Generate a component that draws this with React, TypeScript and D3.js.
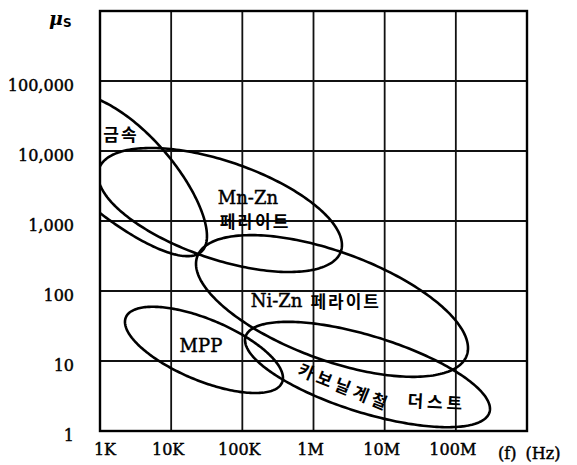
import React from 'react';
import * as d3 from 'd3';

// ---- data (log-log chart: frequency vs. permeability) ----
const xTickValues = [1e3, 1e4, 1e5, 1e6, 1e7, 1e8];
const xTickLabels = ['1K', '10K', '100K', '1M', '10M', '100M'];
const yTickValues = [1, 10, 100, 1e3, 1e4, 1e5];
const yTickLabels = ['1', '10', '100', '1,000', '10,000', '100,000'];
const xDomain = [1e3, 1e9];
const yDomain = [1, 1e6];

// material regions (bent ellipses in log10 decade units)
const regionNames = ['금속', 'Mn-Zn 페라이트', 'Ni-Zn 페라이트', 'MPP', '카보닐계철 더스트'];
const centerFreq = [1.91e3, 48.5e3, 1.82e6, 28.9e3, 5.74e6];
const centerMu = [5458, 1436, 61.1, 14.4, 6.41];
const spanDecades = [1.222, 1.714, 1.911, 1.11, 1.721];
const thickDecades = [0.829, 0.731, 0.814, 0.469, 0.571];
const slopes = [-0.677, -0.292, -0.315, -0.36, -0.285];
const bends = [-0.083, 0, 0, 0, 0];

// label anchors (frequency, mu)
const labelTexts = ['금속', 'Mn-Zn', '페라이트', 'Ni-Zn 페라이트', 'MPP', '카보닐계철', '더스트'];
const labelFreq = [1.97e3, 120e3, 151e3, 1.08e6, 26.2e3, 2.77e6, 54.3e6];
const labelMu = [17500, 2133, 1033, 74.3, 16.4, 4.39, 2.69];
const labelAngle = [0, 0, 0, 0, 0, 22, 3];
const labelSpacing = [2, 0, 2, 2, 0, 4, 4];

const W = 577;
const H = 465;
const left = 100, right = 527, top = 11, bottom = 431;

export default function App() {
  const x = d3.scaleLog().domain(xDomain).range([left, right]);
  const y = d3.scaleLog().domain(yDomain).range([bottom, top]);

  const gridX = d3.range(4, 9).map((e) => Math.pow(10, e));
  const gridY = d3.range(1, 6).map((e) => Math.pow(10, e));

  const line = d3.line<[number, number]>().curve(d3.curveLinearClosed);
  const shapes = regionNames.map((_, i) => {
    const cx = Math.log10(centerFreq[i]);
    const cy = Math.log10(centerMu[i]);
    const pts: [number, number][] = d3.range(0, 240).map((k) => {
      const t = (k / 240) * Math.PI * 2;
      const u = spanDecades[i] * Math.cos(t);
      const v = thickDecades[i] * Math.sin(t);
      const lx = cx + u;
      const ly = cy + slopes[i] * u + bends[i] * u * u + v;
      return [x(Math.pow(10, lx)), y(Math.pow(10, ly))];
    });
    return line(pts) as string;
  });

  const serif = '"DejaVu Serif", "Liberation Serif", serif';
  const kr = '"Noto Sans CJK KR", "Noto Sans", sans-serif';
  const heavy = { stroke: '#000', strokeWidth: 0.45 };

  return (
    <svg
      width={W}
      height={H}
      viewBox={`0 0 ${W} ${H}`}
      style={{ position: 'absolute', left: 0, top: 0, background: '#fff' }}
    >
      <defs>
        <clipPath id="plotClip">
          <rect x={left} y={top} width={right - left} height={bottom - top} />
        </clipPath>
      </defs>

      {/* grid */}
      {gridX.map((v) => (
        <line key={'gx' + v} x1={x(v)} x2={x(v)} y1={top} y2={bottom} stroke="#111" strokeWidth={1.8} />
      ))}
      {gridY.map((v) => (
        <line key={'gy' + v} x1={left} x2={right} y1={y(v)} y2={y(v)} stroke="#111" strokeWidth={1.8} />
      ))}
      <rect x={left} y={top} width={right - left} height={bottom - top} fill="none" stroke="#000" strokeWidth={2.4} />

      {/* regions */}
      <g clipPath="url(#plotClip)">
        {shapes.map((d, i) => (
          <path key={'r' + i} d={d} fill="none" stroke="#000" strokeWidth={2.6} />
        ))}
      </g>

      {/* region labels */}
      {labelTexts.map((t, i) => {
        const px = x(labelFreq[i]);
        const py = y(labelMu[i]);
        const isLatin = /^[A-Za-z]/.test(t);
        return (
          <text
            key={'l' + i}
            x={px}
            y={py}
            transform={labelAngle[i] ? `rotate(${labelAngle[i]},${px},${py})` : undefined}
            textAnchor="middle"
            dominantBaseline="central"
            fontFamily={isLatin ? `${serif}, ${kr}` : kr}
            fontSize={isLatin ? 18 : 17}
            fontWeight={isLatin ? 400 : 700}
            letterSpacing={labelSpacing[i]}
            fill="#000"
            {...(isLatin ? heavy : {})}
          >
            {t.includes(' ') ? (
              <>
                <tspan fontFamily={serif} fontSize={18} letterSpacing={0}>{t.split(' ')[0]}</tspan>
                <tspan fontFamily={kr} fontSize={17} fontWeight={700} letterSpacing={2} dx={8} strokeWidth={0}>
                  {t.split(' ')[1]}
                </tspan>
              </>
            ) : (
              t
            )}
          </text>
        );
      })}

      {/* y tick labels */}
      {yTickValues.map((v, i) => (
        <text
          key={'yt' + v}
          x={74}
          y={y(v) + 4}
          textAnchor="end"
          dominantBaseline="central"
          fontFamily={serif}
          fontSize={16}
          fill="#000"
          {...heavy}
        >
          {yTickLabels[i]}
        </text>
      ))}

      {/* x tick labels */}
      {xTickValues.map((v, i) => (
        <text
          key={'xt' + v}
          x={x(v) + (i === 0 ? 5 : -3)}
          y={455}
          textAnchor="middle"
          fontFamily={serif}
          fontSize={16}
          fill="#000"
          {...heavy}
        >
          {xTickLabels[i]}
        </text>
      ))}

      {/* axis titles */}
      <text x={498} y={459} fontFamily={serif} fontSize={16} fill="#000" {...heavy}>
        (f) <tspan dx={4}>(Hz)</tspan>
      </text>
      <text x={49} y={25} fontFamily={serif} fontSize={19} fontWeight="bold" fontStyle="italic" fill="#000">
        μ
        <tspan fontFamily='"DejaVu Sans", sans-serif' fontStyle="normal" fontWeight="bold" fontSize={12} dy={2}>
          S
        </tspan>
      </text>
    </svg>
  );
}
